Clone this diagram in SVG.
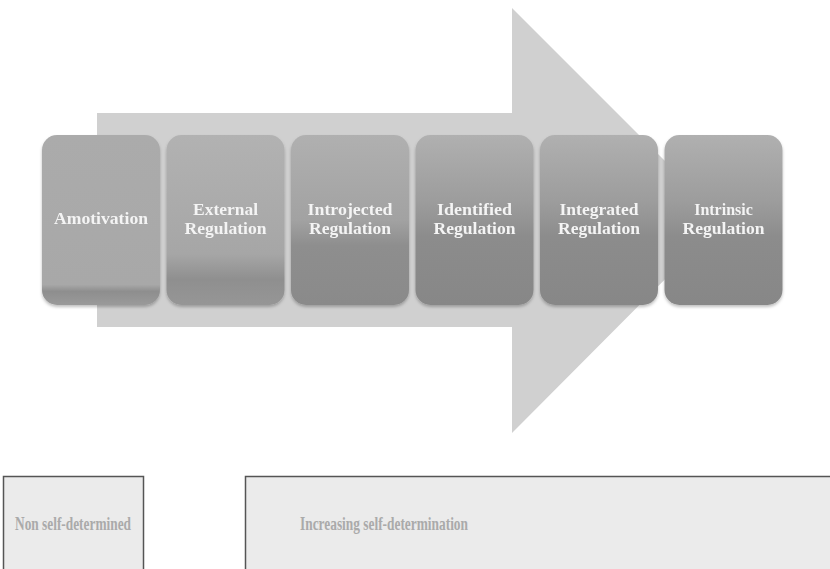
<svg xmlns="http://www.w3.org/2000/svg" width="830" height="569" viewBox="0 0 830 569">
<defs>
<linearGradient id="g0" x1="0" y1="0" x2="0" y2="1">
<stop offset="0" stop-color="#ababab"/><stop offset="0.88" stop-color="#a8a8a8"/><stop offset="0.92" stop-color="#8e8e8e"/><stop offset="1" stop-color="#9a9a9a"/>
</linearGradient>
<linearGradient id="g1" x1="0" y1="0" x2="0" y2="1">
<stop offset="0" stop-color="#b2b2b2"/><stop offset="0.7" stop-color="#a6a6a6"/><stop offset="0.85" stop-color="#8f8f8f"/><stop offset="1" stop-color="#969696"/>
</linearGradient>
<linearGradient id="g2" x1="0" y1="0" x2="0" y2="1">
<stop offset="0" stop-color="#b0b0b0"/><stop offset="0.5" stop-color="#a2a2a2"/><stop offset="0.65" stop-color="#8e8e8e"/><stop offset="1" stop-color="#8a8a8a"/>
</linearGradient>
<linearGradient id="g3" x1="0" y1="0" x2="0" y2="1">
<stop offset="0" stop-color="#b0b0b0"/><stop offset="0.4" stop-color="#9c9c9c"/><stop offset="0.6" stop-color="#8c8c8c"/><stop offset="1" stop-color="#878787"/>
</linearGradient>
<filter id="sh" x="-10%" y="-10%" width="120%" height="125%">
<feDropShadow dx="0" dy="2" stdDeviation="1.5" flood-color="#000" flood-opacity="0.25"/>
</filter>
</defs>
<style>
.lbl{font-family:"Liberation Serif","DejaVu Serif",serif;font-weight:bold;font-size:16px;fill:#f4f4f4;text-anchor:middle}
.bt{font-family:"Liberation Serif","DejaVu Serif",serif;font-weight:bold;font-size:19px;fill:#aaaaaa;text-anchor:middle}
.bx{fill:#ebebeb;stroke:#555;stroke-width:1.5}
</style>
<rect width="830" height="569" fill="#fff"/>
<g id="arrow">
<polygon points="97,113 512,113 512,8 724,220 512,433 512,327 97,327" fill="#d0d0d0"/>
</g>
<g id="n1" filter="url(#sh)"><rect x="42" y="135" width="118" height="170" rx="15" fill="url(#g0)"/><text class="lbl" x="101" y="224" textLength="94" lengthAdjust="spacingAndGlyphs">Amotivation</text></g>
<g id="n2" filter="url(#sh)"><rect x="166.5" y="135" width="118" height="170" rx="15" fill="url(#g1)"/><text class="lbl" x="225.5" y="215" textLength="65" lengthAdjust="spacingAndGlyphs">External</text><text class="lbl" x="225.5" y="234" textLength="82" lengthAdjust="spacingAndGlyphs">Regulation</text></g>
<g id="n3" filter="url(#sh)"><rect x="291" y="135" width="118" height="170" rx="15" fill="url(#g2)"/><text class="lbl" x="350" y="215" textLength="85" lengthAdjust="spacingAndGlyphs">Introjected</text><text class="lbl" x="350" y="234" textLength="82" lengthAdjust="spacingAndGlyphs">Regulation</text></g>
<g id="n4" filter="url(#sh)"><rect x="415.5" y="135" width="118" height="170" rx="15" fill="url(#g3)"/><text class="lbl" x="474.5" y="215" textLength="75" lengthAdjust="spacingAndGlyphs">Identified</text><text class="lbl" x="474.5" y="234" textLength="82" lengthAdjust="spacingAndGlyphs">Regulation</text></g>
<g id="n5" filter="url(#sh)"><rect x="540" y="135" width="118" height="170" rx="15" fill="url(#g3)"/><text class="lbl" x="599" y="215" textLength="79" lengthAdjust="spacingAndGlyphs">Integrated</text><text class="lbl" x="599" y="234" textLength="82" lengthAdjust="spacingAndGlyphs">Regulation</text></g>
<g id="n6" filter="url(#sh)"><rect x="664.5" y="135" width="118" height="170" rx="15" fill="url(#g3)"/><text class="lbl" x="723.5" y="215">Intrinsic</text><text class="lbl" x="723.5" y="234" textLength="82" lengthAdjust="spacingAndGlyphs">Regulation</text></g>
<g id="b1"><rect class="bx" x="3.5" y="476.5" width="140" height="100"/><text class="bt" x="73" y="530" textLength="116" lengthAdjust="spacingAndGlyphs">Non self-determined</text></g>
<g id="b2"><rect class="bx" x="245.5" y="476.5" width="600" height="100"/><text class="bt" x="384" y="530" textLength="168" lengthAdjust="spacingAndGlyphs">Increasing self-determination</text></g>
<g id="connectors"/>
</svg>
